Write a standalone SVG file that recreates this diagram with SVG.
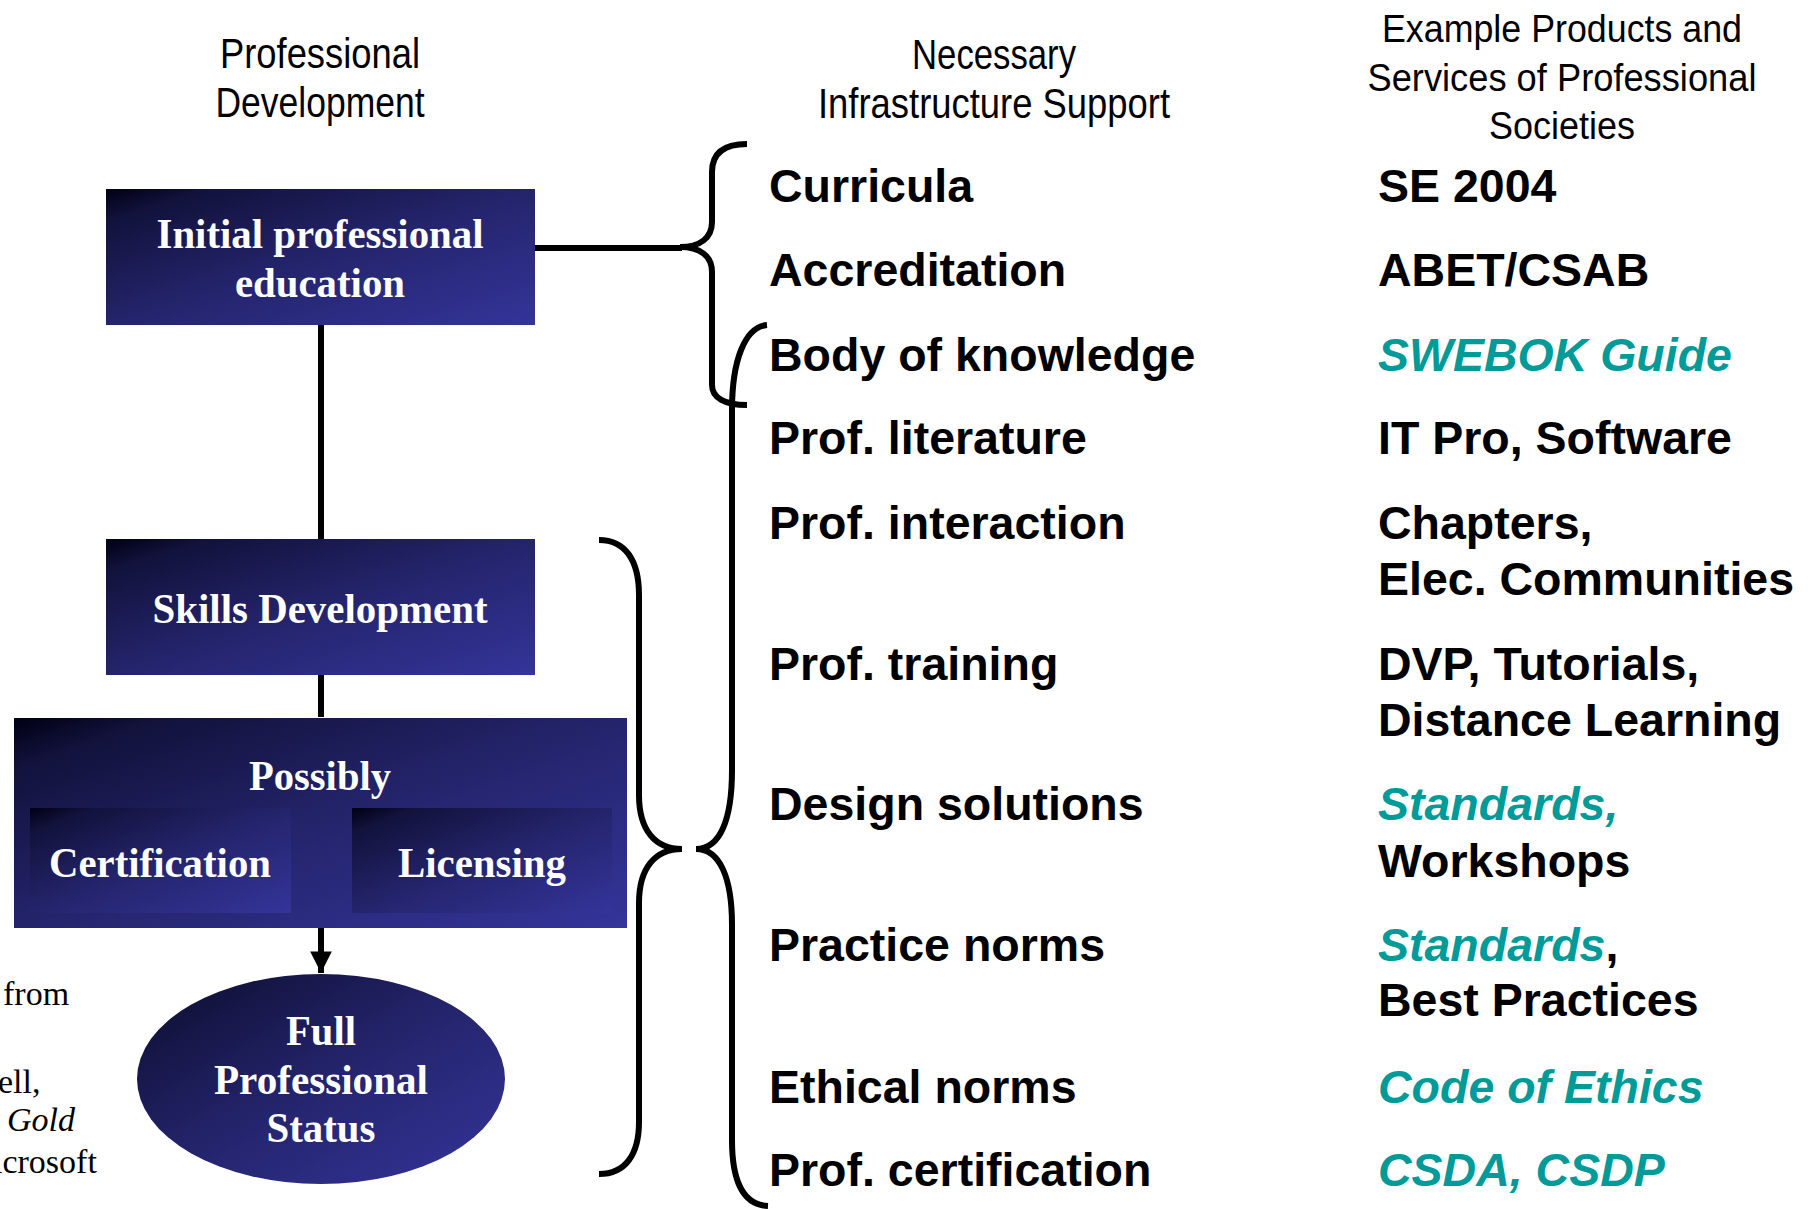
<svg xmlns="http://www.w3.org/2000/svg" width="1811" height="1209" viewBox="0 0 1811 1209">
  <defs>
    <linearGradient id="navy" x1="0" y1="0" x2="1" y2="1">
      <stop offset="0" stop-color="#000014"/>
      <stop offset="0.12" stop-color="#12123c"/>
      <stop offset="0.5" stop-color="#24246c"/>
      <stop offset="1" stop-color="#34349a"/>
    </linearGradient>
    <marker id="arrow" viewBox="0 0 10 10" refX="10" refY="5" markerWidth="3.6" markerHeight="3.6" orient="auto" markerUnits="strokeWidth">
      <path d="M0,0 L10,5 L0,10 z" fill="#000"/>
    </marker>
    <style>
      .box { fill: url(#navy); }
      .boxtext { font-family: "Liberation Serif", "Times New Roman", serif; font-weight: bold; font-size: 42px; fill: #fff; text-anchor: middle; }
      .head { font-family: "Liberation Sans Narrow", "Liberation Sans", Arial, sans-serif; font-size: 42px; fill: #000; text-anchor: middle; }
      .head2 { font-family: "Liberation Sans", Arial, sans-serif; font-size: 38px; fill: #000; text-anchor: middle; }
      .item { font-family: "Liberation Sans", Arial, sans-serif; font-weight: bold; font-size: 46.5px; fill: #000; }
      .teal { fill: #009a98; font-style: italic; }
      .plain { fill: #000; font-style: normal; }
      .note { font-family: "Liberation Serif", "Times New Roman", serif; font-size: 34px; fill: #000; }
      .line { stroke: #000; stroke-width: 6; fill: none; }
    </style>
  </defs>
  <rect width="1811" height="1209" fill="#fff"/>

  <!-- column headings -->
  <g id="headings">
    <text class="head" x="320" y="68" textLength="200" lengthAdjust="spacingAndGlyphs">Professional</text>
    <text class="head" x="320" y="117" textLength="209" lengthAdjust="spacingAndGlyphs">Development</text>
    <text class="head" x="994" y="69" textLength="164" lengthAdjust="spacingAndGlyphs">Necessary</text>
    <text class="head" x="994" y="118" textLength="352" lengthAdjust="spacingAndGlyphs">Infrastructure Support</text>
    <text class="head2" x="1562" y="42" textLength="360" lengthAdjust="spacingAndGlyphs">Example Products and</text>
    <text class="head2" x="1562" y="91" textLength="389" lengthAdjust="spacingAndGlyphs">Services of Professional</text>
    <text class="head2" x="1562" y="139" textLength="146" lengthAdjust="spacingAndGlyphs">Societies</text>
  </g>

  <!-- connectors and braces -->
  <g id="connectors">
    <path class="line" d="M321 325 L321 539"/>
    <path class="line" d="M321 675 L321 717"/>
    <path class="line" d="M321 927 L321 973" marker-end="url(#arrow)"/>
    <path class="line" d="M535 248 L682 248"/>
    <path class="line" d="M747 144 C725 144 712 152 712 172 L712 222 C712 238 700 247 680 247 C700 247 712 256 712 272 L712 385 C712 398 725 405 747 405"/>
    <path class="line" d="M767 325 C745 327 732 360 732 410 L732 770 C732 820 720 849 696 849 C720 849 732 878 732 925 L732 1140 C732 1185 745 1205 768 1206"/>
    <path class="line" d="M599 540 C625 540 639 560 639 595 L639 795 C639 830 655 849 682 849 C655 849 639 868 639 903 L639 1122 C639 1155 625 1174 599 1174"/>
  </g>

  <!-- professional development path -->
  <g id="initial-education">
    <rect class="box" x="106" y="189" width="429" height="136"/>
    <text class="boxtext" x="320" y="248" textLength="327" lengthAdjust="spacingAndGlyphs">Initial professional</text>
    <text class="boxtext" x="320" y="297" textLength="170" lengthAdjust="spacingAndGlyphs">education</text>
  </g>
  <g id="skills-development">
    <rect class="box" x="106" y="539" width="429" height="136"/>
    <text class="boxtext" x="320" y="623" textLength="335" lengthAdjust="spacingAndGlyphs">Skills Development</text>
  </g>
  <g id="possibly">
    <rect class="box" x="14" y="718" width="613" height="210"/>
    <text class="boxtext" x="320" y="790" textLength="142" lengthAdjust="spacingAndGlyphs">Possibly</text>
  </g>
  <g id="certification">
    <rect class="box" x="30" y="808" width="261" height="105"/>
    <text class="boxtext" x="160" y="877" textLength="222" lengthAdjust="spacingAndGlyphs">Certification</text>
  </g>
  <g id="licensing">
    <rect class="box" x="352" y="808" width="260" height="105"/>
    <text class="boxtext" x="482" y="877" textLength="168" lengthAdjust="spacingAndGlyphs">Licensing</text>
  </g>
  <g id="full-status">
    <ellipse class="box" cx="321" cy="1079" rx="184" ry="105"/>
    <text class="boxtext" x="321" y="1045" textLength="70" lengthAdjust="spacingAndGlyphs">Full</text>
    <text class="boxtext" x="321" y="1094" textLength="214" lengthAdjust="spacingAndGlyphs">Professional</text>
    <text class="boxtext" x="321" y="1142" textLength="109" lengthAdjust="spacingAndGlyphs">Status</text>
  </g>

  <!-- text partly cut at the left edge -->
  <g id="side-note">
    <text class="note" x="3" y="1005">from</text>
    <text class="note" x="-2" y="1093">ell,</text>
    <text class="note" x="7" y="1131" font-style="italic">Gold</text>
    <text class="note" x="-7" y="1173">icrosoft</text>
  </g>

  <!-- necessary infrastructure support -->
  <g id="infrastructure">
    <text class="item" x="769" y="202">Curricula</text>
    <text class="item" x="769" y="286">Accreditation</text>
    <text class="item" x="769" y="371">Body of knowledge</text>
    <text class="item" x="769" y="454">Prof. literature</text>
    <text class="item" x="769" y="539">Prof. interaction</text>
    <text class="item" x="769" y="680">Prof. training</text>
    <text class="item" x="769" y="820">Design solutions</text>
    <text class="item" x="769" y="961">Practice norms</text>
    <text class="item" x="769" y="1103">Ethical norms</text>
    <text class="item" x="769" y="1186">Prof. certification</text>
  </g>

  <!-- example products and services -->
  <g id="products">
    <text class="item" x="1378" y="202">SE 2004</text>
    <text class="item" x="1378" y="286">ABET/CSAB</text>
    <text class="item teal" x="1378" y="371">SWEBOK Guide</text>
    <text class="item" x="1378" y="454">IT Pro, Software</text>
    <text class="item" x="1378" y="539">Chapters,</text>
    <text class="item" x="1378" y="595">Elec. Communities</text>
    <text class="item" x="1378" y="680">DVP, Tutorials,</text>
    <text class="item" x="1378" y="736">Distance Learning</text>
    <text class="item teal" x="1378" y="820">Standards,</text>
    <text class="item" x="1378" y="877">Workshops</text>
    <text class="item" x="1378" y="961"><tspan class="teal">Standards</tspan><tspan class="plain">,</tspan></text>
    <text class="item" x="1378" y="1016">Best Practices</text>
    <text class="item teal" x="1378" y="1103">Code of Ethics</text>
    <text class="item teal" x="1378" y="1186">CSDA, CSDP</text>
  </g>
</svg>
